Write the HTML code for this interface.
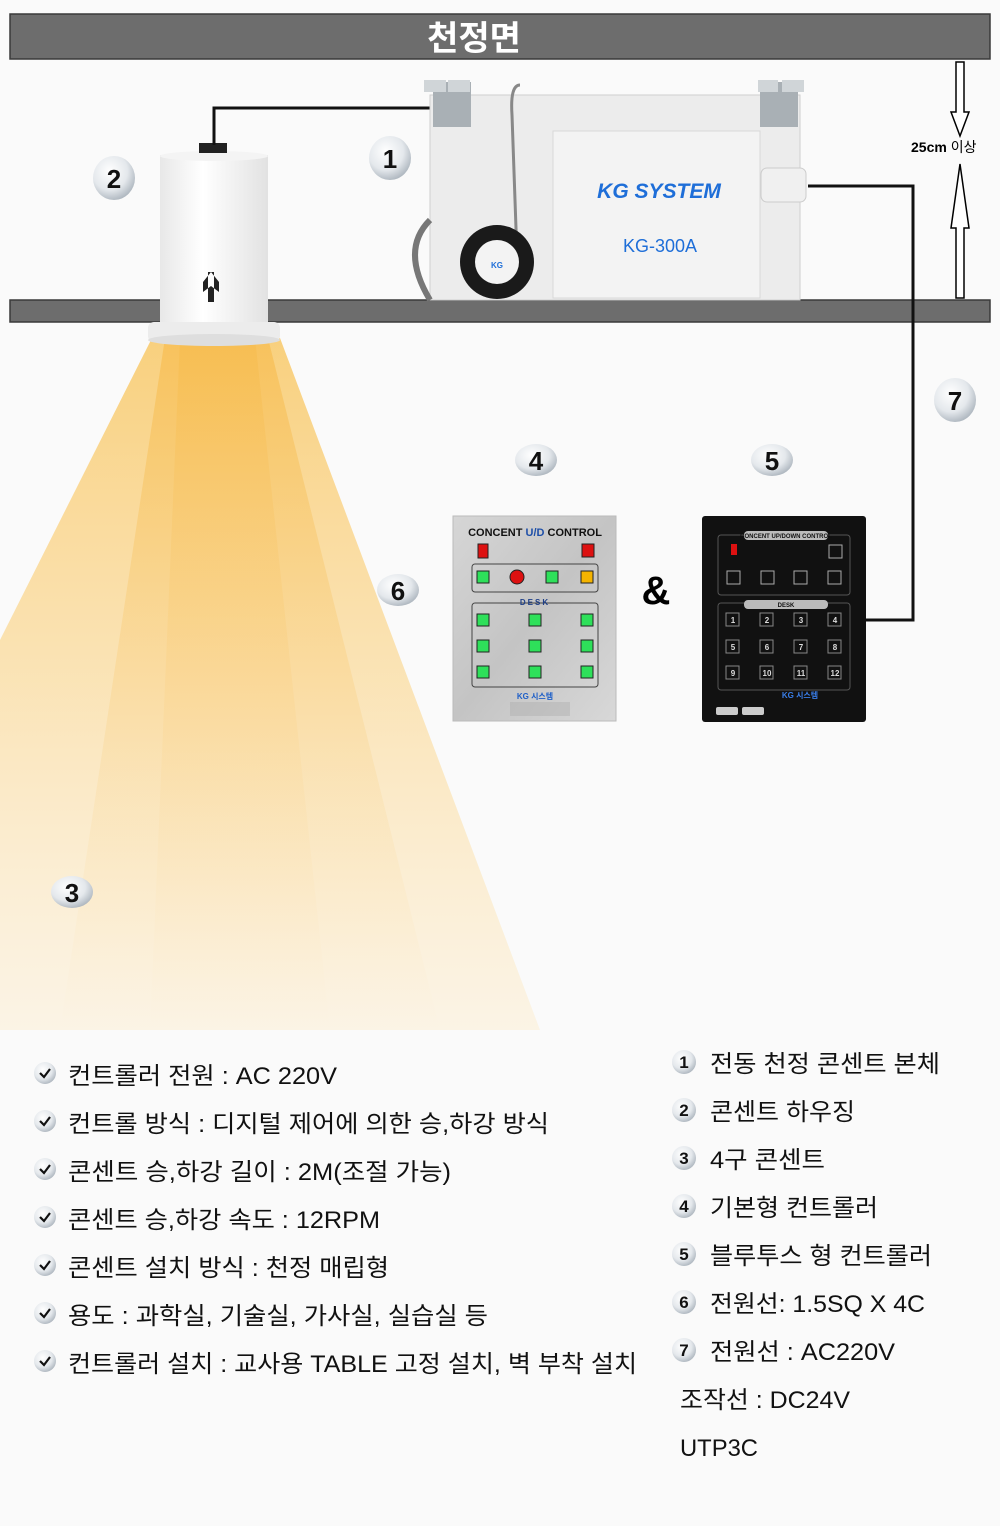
<!DOCTYPE html>
<html><head><meta charset="utf-8"><style>
html,body{margin:0;padding:0;background:#fafafa}
svg{display:block}
text{font-family:"Liberation Sans","Noto Sans CJK KR",sans-serif}
.k{font-family:"Noto Sans CJK KR","Liberation Sans",sans-serif}
</style></head><body>
<svg width="1000" height="1526" viewBox="0 0 1000 1526" xmlns="http://www.w3.org/2000/svg">
<defs>
<linearGradient id="cone" x1="0" y1="0" x2="0" y2="1">
<stop offset="0" stop-color="#f8c254" stop-opacity="1"/>
<stop offset="0.5" stop-color="#fbd58a" stop-opacity="0.8"/>
<stop offset="1" stop-color="#fde9c2" stop-opacity="0.5"/>
</linearGradient>
<linearGradient id="cone2" x1="0" y1="0" x2="0" y2="1">
<stop offset="0" stop-color="#f6b640" stop-opacity="0.9"/>
<stop offset="1" stop-color="#fbd99a" stop-opacity="0"/>
</linearGradient>
<radialGradient id="ball" cx="0.4" cy="0.35" r="0.7">
<stop offset="0" stop-color="#ffffff"/><stop offset="0.6" stop-color="#e4e8ec"/><stop offset="1" stop-color="#a9b2bb"/>
</radialGradient>
<linearGradient id="cyl" x1="0" x2="1">
<stop offset="0" stop-color="#e8e8e8"/><stop offset="0.4" stop-color="#ffffff"/><stop offset="1" stop-color="#e2e2e2"/>
</linearGradient>
<linearGradient id="silver" x1="0" y1="0" x2="1" y2="1">
<stop offset="0" stop-color="#d6d6d6"/><stop offset="0.5" stop-color="#c4c4c4"/><stop offset="1" stop-color="#d8d8d8"/>
</linearGradient>
</defs>

<!-- ceiling bars -->
<rect x="10" y="14" width="980" height="45" fill="#6d6d6d" stroke="#3a3a3a" stroke-width="1.5"/>
<text x="474" y="50" text-anchor="middle" class="k" font-size="34" font-weight="bold" fill="#fff">천정면</text>
<rect x="10" y="300" width="980" height="22" fill="#6d6d6d" stroke="#3a3a3a" stroke-width="1.5"/>

<!-- light cone -->
<polygon points="152,338 280,338 540,1030 0,1030 0,640" fill="url(#cone)" opacity="0.75"/>
<polygon points="165,338 268,338 440,1030 60,1030" fill="url(#cone2)" opacity="0.6"/>
<polygon points="180,338 255,338 330,1030 150,1030" fill="url(#cone2)" opacity="0.4"/>

<!-- housing -->
<rect x="160" y="155" width="108" height="170" fill="url(#cyl)"/>
<ellipse cx="214" cy="156" rx="54" ry="5" fill="#f4f4f4"/>
<rect x="148" y="322" width="132" height="20" rx="6" fill="#ececec"/>
<ellipse cx="214" cy="340" rx="66" ry="6" fill="#dedede"/>
<rect x="199" y="143" width="28" height="10" fill="#222"/>
<path d="M208 272 v30 h6 v-30 z M203 282 l8 -10 l8 10 v10 l-8 -6 l-8 6z" fill="#222"/>
<polyline points="214,145 214,108 434,108" fill="none" stroke="#111" stroke-width="3"/>

<!-- main unit -->
<rect x="430" y="95" width="370" height="205" fill="#ececec" stroke="#cfcfcf"/>
<rect x="433" y="82" width="38" height="45" fill="#a9b0b5"/>
<rect x="424" y="80" width="22" height="12" fill="#d0d5d8"/><rect x="448" y="80" width="22" height="12" fill="#d0d5d8"/>
<rect x="760" y="82" width="38" height="45" fill="#a9b0b5"/>
<rect x="758" y="80" width="20" height="12" fill="#d0d5d8"/><rect x="782" y="80" width="22" height="12" fill="#d0d5d8"/>
<path d="M520 85 q-10 0 -8 30 l6 170" fill="none" stroke="#888" stroke-width="3"/>
<path d="M430 220 q-30 30 0 80" fill="none" stroke="#777" stroke-width="6"/>
<rect x="553" y="131" width="207" height="167" fill="#f3f3f3" stroke="#d8d8d8"/>
<text x="659" y="198" text-anchor="middle" font-size="21" font-weight="bold" font-style="italic" fill="#1e6ed8">KG SYSTEM</text>
<text x="660" y="252" text-anchor="middle" font-size="18" fill="#1e6ed8">KG-300A</text>
<rect x="761" y="168" width="45" height="34" rx="6" fill="#f0f0f0" stroke="#ccc"/>
<circle cx="497" cy="262" r="37" fill="#1a1a1a"/>
<circle cx="497" cy="262" r="22" fill="#f3f3f3"/>
<text x="497" y="268" text-anchor="middle" font-size="8" font-weight="bold" fill="#1e6ed8">KG</text>
<polyline points="808,186 913,186 913,620 866,620" fill="none" stroke="#111" stroke-width="3"/>

<!-- 25cm arrows -->
<path d="M956 62 h8 v50 h5 l-9 24 l-9 -24 h5 z" fill="#fff" stroke="#000" stroke-width="1.5"/>
<path d="M956 298 h8 v-70 h5 l-9 -64 l-9 64 h5 z" fill="#fff" stroke="#000" stroke-width="1.5"/>
<text x="911" y="152" font-size="14" font-weight="bold" fill="#000">25cm <tspan class="k" font-weight="normal">이상</tspan></text>

<!-- number balls -->
<g font-size="26" font-weight="bold" text-anchor="middle" fill="#111">
<ellipse cx="390" cy="158" rx="21" ry="22" fill="url(#ball)"/><text x="390" y="168">1</text>
<ellipse cx="114" cy="178" rx="21" ry="22" fill="url(#ball)"/><text x="114" y="188">2</text>
<ellipse cx="72" cy="892" rx="21" ry="16" fill="url(#ball)"/><text x="72" y="902">3</text>
<ellipse cx="536" cy="460" rx="21" ry="16" fill="url(#ball)"/><text x="536" y="470">4</text>
<ellipse cx="772" cy="460" rx="21" ry="16" fill="url(#ball)"/><text x="772" y="470">5</text>
<ellipse cx="398" cy="590" rx="21" ry="16" fill="url(#ball)"/><text x="398" y="600">6</text>
<ellipse cx="955" cy="400" rx="21" ry="22" fill="url(#ball)"/><text x="955" y="410">7</text>
</g>

<!-- controller 4 -->
<rect x="453" y="516" width="163" height="205" fill="url(#silver)" stroke="#bbb"/>
<text x="535" y="536" text-anchor="middle" font-size="11" font-weight="bold" fill="#111">CONCENT <tspan fill="#1e4fa8">U/D</tspan> CONTROL</text>
<rect x="478" y="544" width="10" height="14" fill="#d11" stroke="#222"/>
<rect x="582" y="544" width="12" height="13" fill="#d11" stroke="#222"/>
<rect x="472" y="564" width="126" height="28" rx="3" fill="none" stroke="#444"/>
<g fill="#2ee05a" stroke="#222">
<rect x="477" y="571" width="12" height="12"/><rect x="546" y="571" width="12" height="12"/>
<rect x="477" y="614" width="12" height="12"/><rect x="529" y="614" width="12" height="12"/><rect x="581" y="614" width="12" height="12"/>
<rect x="477" y="640" width="12" height="12"/><rect x="529" y="640" width="12" height="12"/><rect x="581" y="640" width="12" height="12"/>
<rect x="477" y="666" width="12" height="12"/><rect x="529" y="666" width="12" height="12"/><rect x="581" y="666" width="12" height="12"/>
</g>
<circle cx="517" cy="577" r="7" fill="#d11" stroke="#222"/>
<rect x="581" y="571" width="12" height="12" fill="#f5b400" stroke="#222"/>
<rect x="472" y="603" width="126" height="84" rx="3" fill="none" stroke="#444"/>
<text x="535" y="605" text-anchor="middle" font-size="8" font-weight="bold" fill="#1e3f88" letter-spacing="2">DESK</text>
<text x="535" y="699" text-anchor="middle" font-size="8" font-weight="bold" fill="#1e5fc8">KG 시스템</text>
<rect x="510" y="702" width="60" height="14" fill="#aaa" opacity="0.4"/>

<!-- & -->
<text x="656" y="604" text-anchor="middle" font-size="40" font-weight="bold" fill="#000">&amp;</text>

<!-- controller 5 -->
<rect x="702" y="516" width="164" height="206" rx="3" fill="#111"/>
<rect x="718" y="535" width="132" height="60" rx="3" fill="none" stroke="#555"/>
<rect x="744" y="531" width="84" height="9" rx="4" fill="#bbb"/>
<text x="786" y="538" text-anchor="middle" font-size="6" font-weight="bold" fill="#111">CONCENT UP/DOWN CONTROL</text>
<rect x="731" y="544" width="6" height="11" fill="#d11"/>
<g fill="none" stroke="#aaa"><rect x="829" y="545" width="13" height="13"/>
<rect x="727" y="571" width="13" height="13"/><rect x="761" y="571" width="13" height="13"/><rect x="794" y="571" width="13" height="13"/><rect x="828" y="571" width="13" height="13"/></g>
<rect x="718" y="603" width="132" height="87" rx="3" fill="none" stroke="#555"/>
<rect x="744" y="600" width="84" height="9" rx="4" fill="#bbb"/>
<text x="786" y="607" text-anchor="middle" font-size="6" font-weight="bold" fill="#111">DESK</text>
<g font-size="8" font-weight="bold" fill="#ddd" text-anchor="middle">
<g fill="none" stroke="#888">
<rect x="726" y="613" width="13" height="13"/><rect x="760" y="613" width="13" height="13"/><rect x="794" y="613" width="13" height="13"/><rect x="828" y="613" width="13" height="13"/>
<rect x="726" y="640" width="13" height="13"/><rect x="760" y="640" width="13" height="13"/><rect x="794" y="640" width="13" height="13"/><rect x="828" y="640" width="13" height="13"/>
<rect x="726" y="666" width="13" height="13"/><rect x="760" y="666" width="13" height="13"/><rect x="794" y="666" width="13" height="13"/><rect x="828" y="666" width="13" height="13"/>
</g>
<text x="733" y="623">1</text><text x="767" y="623">2</text><text x="801" y="623">3</text><text x="835" y="623">4</text>
<text x="733" y="650">5</text><text x="767" y="650">6</text><text x="801" y="650">7</text><text x="835" y="650">8</text>
<text x="733" y="676">9</text><text x="767" y="676">10</text><text x="801" y="676">11</text><text x="835" y="676">12</text>
</g>
<text x="800" y="698" text-anchor="middle" font-size="8" font-weight="bold" fill="#3a7ee8">KG 시스템</text>
<rect x="716" y="707" width="22" height="8" rx="2" fill="#ccc"/><rect x="742" y="707" width="22" height="8" rx="2" fill="#ccc"/>

<!-- left list -->
<g font-size="24" fill="#111" class="k">
<g fill="url(#ball)"><circle cx="45" cy="1073" r="11"/><circle cx="45" cy="1121" r="11"/><circle cx="45" cy="1169" r="11"/><circle cx="45" cy="1217" r="11"/><circle cx="45" cy="1265" r="11"/><circle cx="45" cy="1313" r="11"/><circle cx="45" cy="1361" r="11"/></g>
<g fill="none" stroke="#111" stroke-width="2.2"><path d="M40 1073 l4 4 l6 -8"/><path d="M40 1121 l4 4 l6 -8"/><path d="M40 1169 l4 4 l6 -8"/><path d="M40 1217 l4 4 l6 -8"/><path d="M40 1265 l4 4 l6 -8"/><path d="M40 1313 l4 4 l6 -8"/><path d="M40 1361 l4 4 l6 -8"/></g>
<text x="68" y="1084" textLength="269" lengthAdjust="spacingAndGlyphs">컨트롤러 전원 : AC 220V</text>
<text x="68" y="1132" textLength="481" lengthAdjust="spacingAndGlyphs">컨트롤 방식 : 디지털 제어에 의한 승,하강 방식</text>
<text x="68" y="1180" textLength="383" lengthAdjust="spacingAndGlyphs">콘센트 승,하강 길이 : 2M(조절 가능)</text>
<text x="68" y="1228" textLength="312" lengthAdjust="spacingAndGlyphs">콘센트 승,하강 속도 : 12RPM</text>
<text x="68" y="1276" textLength="321" lengthAdjust="spacingAndGlyphs">콘센트 설치 방식 : 천정 매립형</text>
<text x="68" y="1324" textLength="420" lengthAdjust="spacingAndGlyphs">용도 : 과학실, 기술실, 가사실, 실습실 등</text>
<text x="68" y="1372" textLength="569" lengthAdjust="spacingAndGlyphs">컨트롤러 설치 : 교사용 TABLE 고정 설치, 벽 부착 설치</text>
</g>

<!-- right list -->
<g font-size="24" fill="#111" class="k">
<g fill="url(#ball)"><circle cx="684" cy="1062" r="12"/><circle cx="684" cy="1110" r="12"/><circle cx="684" cy="1158" r="12"/><circle cx="684" cy="1206" r="12"/><circle cx="684" cy="1254" r="12"/><circle cx="684" cy="1302" r="12"/><circle cx="684" cy="1350" r="12"/></g>
<g font-size="17" font-weight="bold" text-anchor="middle" font-family="Liberation Sans">
<text x="684" y="1068">1</text><text x="684" y="1116">2</text><text x="684" y="1164">3</text><text x="684" y="1212">4</text><text x="684" y="1260">5</text><text x="684" y="1308">6</text><text x="684" y="1356">7</text></g>
<text x="710" y="1072" textLength="230" lengthAdjust="spacingAndGlyphs">전동 천정 콘센트 본체</text>
<text x="710" y="1120" textLength="145" lengthAdjust="spacingAndGlyphs">콘센트 하우징</text>
<text x="710" y="1168" textLength="115" lengthAdjust="spacingAndGlyphs">4구 콘센트</text>
<text x="710" y="1216" textLength="168" lengthAdjust="spacingAndGlyphs">기본형 컨트롤러</text>
<text x="710" y="1264" textLength="222" lengthAdjust="spacingAndGlyphs">블루투스 형 컨트롤러</text>
<text x="710" y="1312" textLength="215" lengthAdjust="spacingAndGlyphs">전원선: 1.5SQ X 4C</text>
<text x="710" y="1360" textLength="185" lengthAdjust="spacingAndGlyphs">전원선 : AC220V</text>
<text x="680" y="1408" textLength="170" lengthAdjust="spacingAndGlyphs">조작선 : DC24V</text>
<text x="680" y="1456" textLength="78" lengthAdjust="spacingAndGlyphs">UTP3C</text>
</g>
</svg>
</body></html>
